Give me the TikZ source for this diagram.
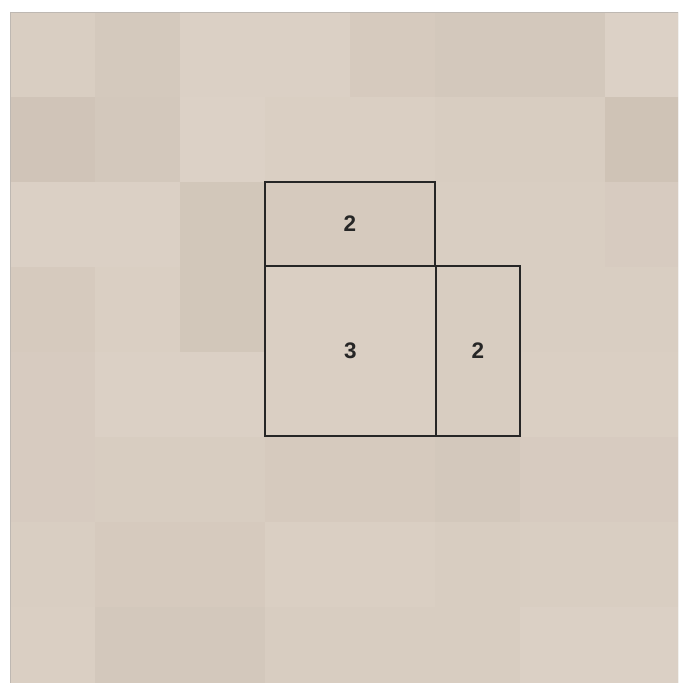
\documentclass[tikz,border=0pt]{standalone}
\usepackage{fontspec}
\setmainfont{Liberation Sans}
\usepackage{tikz}
\definecolor{tilelight}{RGB}{223,213,202}
\definecolor{tiledark}{RGB}{202,189,176}
\definecolor{floorline}{RGB}{190,184,178}
\newcommand{\numfont}{\bfseries\fontsize{16}{18}\selectfont}

\begin{document}
\begin{tikzpicture}[
    x=0.025cm,y=-0.025cm,
    floor/.style={fill=tilelight!60!tiledark,draw=floorline,line width=0.6pt},
    tile/.style={fill=tiledark!#1!tilelight},
    room/.style={draw=black!85,line width=1.3pt,inner sep=0pt,font=\numfont,text=black!85}
]
\useasboundingbox (0,0) rectangle (684,683);
\fill[white] (0,0) rectangle (684,683);

% floor tiles, 85px grid starting at (10,12)
\begin{scope}
\clip (10,12) rectangle (678,683);
\fill[floor] (10,12) rectangle (678,683);
\foreach \i/\j/\w/\h/\s in {
    0/0/1/1/30, 1/0/1/1/50, 2/0/2/1/20, 4/0/1/1/45, 5/0/2/1/55, 7/0/1/1/15,
    0/1/1/1/70, 1/1/1/1/55, 2/1/1/1/15, 3/1/2/1/25, 5/1/2/1/35, 7/1/1/1/75,
    0/2/2/1/20, 2/2/1/2/60, 3/2/2/1/45, 5/2/2/1/30, 7/2/1/1/40,
    0/3/1/1/45, 1/3/1/1/25, 3/3/2/2/25, 5/3/1/2/35, 6/3/2/1/30,
    0/4/1/2/40, 1/4/2/1/20, 6/4/2/1/25,
    1/5/2/1/35, 3/5/2/1/45, 5/5/1/1/55, 6/5/2/1/40,
    0/6/1/1/30, 1/6/2/1/45, 3/6/2/1/25, 5/6/1/2/35, 6/6/2/1/30,
    0/7/1/1/25, 1/7/2/1/55, 3/7/2/1/35, 6/7/2/1/20}
    \fill[tile=\s] ({10+85*\i},{12+85*\j}) rectangle ++({85*\w},{85*\h});
\draw[floorline,line width=0.6pt] (10,12) -- (678,12);
\draw[floorline,line width=0.6pt] (10,12) -- (10,683);
\end{scope}

% rooms
\node[room,minimum width=4.25cm,minimum height=2.1cm] (upper) at (350,224) {2};
\node[room,minimum width=4.275cm,minimum height=4.25cm] (main) at (350.5,351) {3};
\node[room,minimum width=2.1cm,minimum height=4.25cm] (side) at (478,351) {2};
\end{tikzpicture}
\end{document}
